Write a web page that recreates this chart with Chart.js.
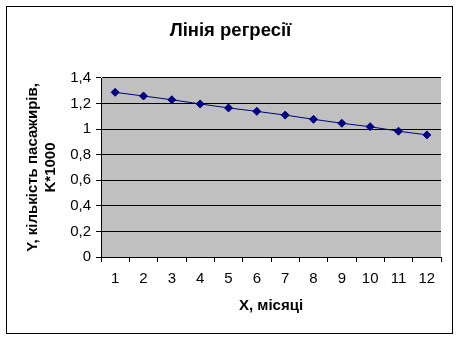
<!DOCTYPE html>
<html>
<head>
<meta charset="utf-8">
<style>
html,body{margin:0;padding:0;background:#fff;}
#wrap{width:459px;height:340px;position:relative;}
</style>
<script src="https://cdn.jsdelivr.net/npm/chart.js@4.4.1/dist/chart.umd.min.js"></script>
</head>
<body>
<div id="wrap"><canvas id="c" width="459" height="340"></canvas></div>
<script>
const categories = ['1','2','3','4','5','6','7','8','9','10','11','12'];
const values = [1.288, 1.259, 1.23, 1.197, 1.166, 1.139, 1.11, 1.077, 1.046, 1.019, 0.984, 0.955];
const yTickLabels = ['0','0,2','0,4','0,6','0,8','1','1,2','1,4'];
const titleText = 'Лінія регресії';
const xTitle = 'X, місяці';
const yTitle = ['Y, кількість пасажирів,', 'K*1000'];

const FONT = 'Arial, "Liberation Sans", sans-serif';

const bgPlugin = {
  id: 'bg',
  beforeDraw(chart) {
    const ctx = chart.ctx, a = chart.chartArea;
    ctx.save();
    ctx.fillStyle = '#fff';
    ctx.fillRect(0, 0, chart.width, chart.height);
    ctx.strokeStyle = '#000';
    ctx.lineWidth = 1;
    ctx.strokeRect(6.5, 6.5, 446, 327);
    ctx.fillStyle = '#C0C0C0';
    ctx.fillRect(a.left, a.top, a.right - a.left, a.bottom - a.top);
    ctx.restore();
  }
};

new Chart(document.getElementById('c'), {
  type: 'line',
  data: {
    labels: categories,
    datasets: [{
      data: values,
      borderColor: '#000080',
      backgroundColor: '#000080',
      borderWidth: 1,
      pointStyle: 'rectRot',
      pointRadius: 4,
      pointBorderWidth: 1,
      tension: 0
    }]
  },
  plugins: [bgPlugin],
  options: {
    responsive: false,
    animation: false,
    devicePixelRatio: 1,
    layout: { padding: { left: 20, right: 18, top: 0, bottom: 25 } },
    plugins: {
      legend: { display: false },
      tooltip: { enabled: false },
      title: {
        display: true,
        text: titleText,
        color: '#000',
        font: { family: FONT, size: 18.5, weight: 'bold' },
        padding: { top: 19.4, bottom: 36.4 }
      }
    },
    scales: {
      x: {
        type: 'category',
        offset: true,
        afterFit(scale) { scale.height = 58; },
        grid: {
          offset: true,
          drawOnChartArea: false,
          drawTicks: true,
          tickLength: 5,
          color: '#000'
        },
        border: { display: true, color: '#000', width: 1 },
        ticks: {
          color: '#000',
          padding: 8,
          maxRotation: 0,
          autoSkip: false,
          font: { family: FONT, size: 15 }
        },
        title: {
          display: true,
          text: xTitle,
          color: '#000',
          font: { family: FONT, size: 15, weight: 'bold' },
          padding: { top: 0, bottom: 0 }
        }
      },
      y: {
        min: 0,
        max: 1.4,
        afterFit(scale) { scale.width = 81; },
        afterBuildTicks(scale) {
          scale.ticks = yTickLabels.map((_, i) => ({ value: i * 0.2 }));
        },
        grid: {
          color: '#000',
          lineWidth: 1,
          drawTicks: true,
          tickLength: 5
        },
        border: { display: true, color: '#000', width: 1 },
        ticks: {
          color: '#000',
          padding: 5,
          font: { family: FONT, size: 15 },
          callback(value, index) { return yTickLabels[index]; }
        },
        title: {
          display: true,
          text: yTitle,
          color: '#000',
          font: { family: FONT, size: 15, weight: 'bold' },
          padding: { top: 4, bottom: 0 }
        }
      }
    }
  }
});
</script>
</body>
</html>
